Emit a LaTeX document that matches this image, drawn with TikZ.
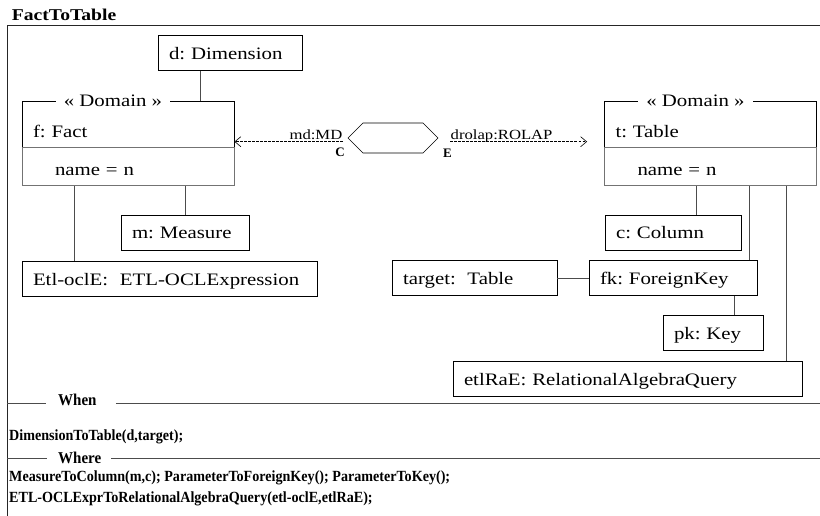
\documentclass[tikz,border=0pt]{standalone}
\usepackage{fontspec}
\setmainfont{Liberation Serif}
\newfontfamily\widefont[FakeStretch=1.19]{Liberation Serif}
\newfontfamily\narrowfont[FakeStretch=0.91]{Liberation Serif}
\frenchspacing
\usepackage{tikz}
\usetikzlibrary{positioning,shapes,shapes.symbols,arrows.meta,calc}
\tikzstyle{ob}=[%
      rectangle, draw=black, line width=0.8pt, fill=none,
      font=\widefont\fontsize{17.5}{21}\selectfont, align=left,
      text height=13pt, text depth=0pt, minimum height=35pt, inner xsep=11pt, inner ysep=0pt
]
\tikzstyle{dom}=[%
      ob, minimum width=212pt, minimum height=46pt, text width=190pt, text height=26.5pt
]
\tikzstyle{att}=[%
      ob, draw=black!55, minimum width=212pt, minimum height=38pt, inner xsep=33pt, text width=146pt,
      text height=17pt
]
\tikzstyle{st}=[%
      fill=white, inner xsep=8pt, inner ysep=1pt, font=\widefont\fontsize{17.5}{21}\selectfont
]
\tikzstyle{rel}=[%
      signal, signal to=west and east, draw=black, line width=0.7pt,
      minimum width=90pt, minimum height=30pt, inner sep=0pt
]
\tikzstyle{lk}=[%
      inner sep=0pt, text depth=1.5pt, font=\widefont\fontsize{14}{17}\selectfont
]
\tikzstyle{en}=[inner sep=0pt, font=\bfseries\fontsize{13}{15}\selectfont]
\tikzstyle{ln}=[draw=black!70, line width=0.8pt]
\tikzstyle{dl}=[draw=black, line width=0.6pt, dash pattern=on 2.5pt off 1.5pt]
\tikzstyle{kw}=[inner sep=0pt, font=\narrowfont\bfseries\fontsize{16.5}{19}\selectfont]
\tikzstyle{cl}=[inner sep=0pt, font=\narrowfont\bfseries\fontsize{15.5}{18}\selectfont]

\begin{document}
\begin{tikzpicture}[x=1pt, y=-1pt,
    >={Straight Barb[length=6pt,width=10pt]}
  ]
    \useasboundingbox (0,0) rectangle (820,516);
    % frame
    \node[inner sep=0pt, anchor=base west, font=\widefont\bfseries\fontsize{16.5}{20}\selectfont]
      (title) at (11.7,20.7) {FactToTable};
    \coordinate (fb) at (7.3,516);
    \coordinate (ftl) at (7.3,25);
    \coordinate (ftr) at (820,25);
    \draw[draw=black!85, line width=0.8pt] (fb) -- (ftl) -- (ftr);

    % source side
    \node[ob, text width=122pt] (dim) at (230,53) {d: Dimension};
    \node[dom] (fact) at (128,124) {f: Fact};
    \node[att, below=0pt of fact] (fname) {name = n};
    \node[st] at ([xshift=-15pt]fact.north) {« Domain »};
    \node[ob, text width=106pt] (meas) at (185,232.5) {m: Measure};
    \node[ob, text width=273pt] (etl) at (169.5,278.5) {Etl-oclE:\ \ ETL-OCLExpression};

    % target side
    \node[dom] (tbl) at (710.5,124) {t: Table};
    \node[att, below=0pt of tbl] (tname) {name = n};
    \node[st] at ([xshift=-15pt]tbl.north) {« Domain »};
    \node[ob, text width=114pt] (col) at (673,232.5) {c: Column};
    \node[ob, text width=146pt] (fk) at (673,278) {fk: ForeignKey};
    \node[ob, text width=143pt] (tgt) at (474.5,278) {target:\ \ Table};
    \node[ob, text width=78pt] (pk) at (713,332.5) {pk: Key};
    \node[ob, text width=327pt] (era) at (627.5,379) {etlRaE: RelationalAlgebraQuery};

    % relation
    \node[rel] (hex) at (393,138) {};
    \node[lk, anchor=base east] (md) at ([xshift=-5pt,yshift=-2pt]hex.west) {md:MD};
    \node[lk, anchor=base west] (dro) at ([xshift=12pt,yshift=-2pt]hex.east) {drolap:ROLAP};
    \node[en] (cc) at ([xshift=-7.5pt,yshift=-14.5pt]hex.west) {C};
    \node[en] (ce) at ([xshift=9pt,yshift=-15.5pt]hex.east) {E};
    \draw[dl, ->] (md.south east) -- (md.south east -| fact.east);
    \draw[dl, ->, shorten >=17pt] (dro.south west) -- (dro.south west -| tbl.west);

    \path[ln] ([xshift=-30pt]dim.south) -- ([xshift=-30pt]dim.south |- fact.north)
          (meas.north) -- (meas.north |- fname.south)
          ([xshift=53pt]fname.south west) -- ([xshift=53pt]fname.south west |- etl.north)
          ([xshift=23pt]col.north) -- ([xshift=23pt]col.north |- tname.south)
          ([xshift=-8pt]fk.north east) -- ([xshift=-8pt]fk.north east |- tname.south)
          ([xshift=-16pt]era.north east) -- ([xshift=-16pt]era.north east |- tname.south)
          (tgt) -- (fk)
          ([xshift=21pt]pk.north) -- ([xshift=21pt]pk.north |- fk.south)
    ;

    % when / where
    \coordinate (wl) at (7.3,403.5);
    \coordinate (wr) at (820,403.5);
    \node[kw, anchor=base west] (when) at (58,405) {When};
    \draw[ln] (wl) -- ([xshift=-12pt]wl -| when.west);
    \draw[ln] ([xshift=19pt]wl -| when.east) -- (wr);
    \node[cl, anchor=base west] (c1) at (9,440.5) {DimensionToTable(d,target);};
    \coordinate (hl) at (7.3,458);
    \coordinate (hr) at (820,458);
    \node[kw, anchor=base west] (where) at (58,463) {Where};
    \draw[ln] (hl) -- ([xshift=-11pt]hl -| where.west);
    \draw[ln] ([xshift=10pt]hl -| where.east) -- (hr);
    \node[cl, anchor=base west] (c2) at (9,481) {MeasureToColumn(m,c); ParameterToForeignKey(); ParameterToKey();};
    \node[cl, anchor=base west] (c3) at (9,502.5) {ETL-OCLExprToRelationalAlgebraQuery(etl-oclE,etlRaE);};
  \end{tikzpicture}
\end{document}
